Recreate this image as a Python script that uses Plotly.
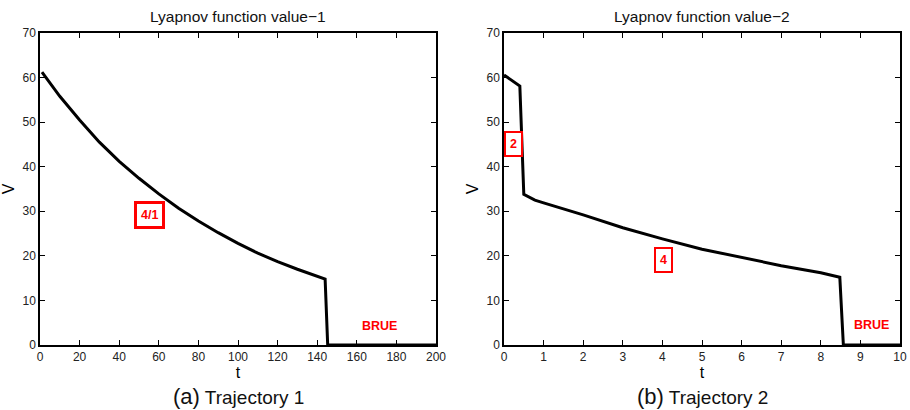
import plotly.graph_objects as go

# Trajectory 1
t1 = [1, 10, 20, 30, 40, 50, 60, 70, 80, 90, 100, 110, 120, 130, 144, 145.3, 200]
v1 = [61.2, 55.8, 50.5, 45.5, 41.2, 37.4, 33.9, 30.7, 27.8, 25.2, 22.8, 20.6, 18.7, 17.0, 14.8, 0, 0]

# Trajectory 2
t2 = [0, 0.4, 0.5, 0.78, 1.0, 2.0, 3.0, 4.0, 5.0, 6.0, 7.0, 8.0, 8.48, 8.57, 10]
v2 = [60.6, 58.1, 33.8, 32.5, 31.9, 29.2, 26.3, 23.8, 21.5, 19.6, 17.8, 16.2, 15.2, 0, 0]

titles = ["Lyapnov function value\u22121", "Lyapnov function value\u22122"]
captions = [("(a)", "Trajectory 1"), ("(b)", "Trajectory 2")]
x1_ticks = [0, 20, 40, 60, 80, 100, 120, 140, 160, 180, 200]
x2_ticks = [0, 1, 2, 3, 4, 5, 6, 7, 8, 9, 10]
y_ticks = [0, 10, 20, 30, 40, 50, 60, 70]

# annotation labels: (axis, x, y, text, boxed)
labels = [
    (1, 55.5, 29.2, "4/1", True),
    (1, 171.5, 4.3, "BRUE", False),
    (2, 0.24, 45.0, "2", True),
    (2, 4.03, 19.1, "4", True),
    (2, 9.29, 4.6, "BRUE", False),
]

W, H = 910, 410
font = "Liberation Sans, Arial, Helvetica, sans-serif"

fig = go.Figure()
fig.add_trace(go.Scatter(x=t1, y=v1, mode="lines", line=dict(color="black", width=3),
                         xaxis="x", yaxis="y", showlegend=False))
fig.add_trace(go.Scatter(x=t2, y=v2, mode="lines", line=dict(color="black", width=3),
                         xaxis="x2", yaxis="y2", showlegend=False))

ydom = [1 - 345 / H, 1 - 33 / H]
xdom1 = [40 / W, 436 / W]
xdom2 = [504 / W, 900 / W]

axcommon = dict(showline=True, linecolor="black", linewidth=1.5, mirror="ticks",
                ticks="inside", ticklen=5, tickwidth=1, tickcolor="black",
                showgrid=False, zeroline=False, automargin=False,
                tickfont=dict(family=font, size=12, color="#222222"))

fig.update_layout(
    width=W, height=H,
    margin=dict(l=0, r=0, t=0, b=0, autoexpand=False),
    plot_bgcolor="white", paper_bgcolor="white",
    xaxis=dict(domain=xdom1, range=[0, 200], tickvals=x1_ticks, anchor="y",
               title=dict(text="t", font=dict(family=font, size=16, color="black"), standoff=0),
               **axcommon),
    yaxis=dict(domain=ydom, range=[0, 70], tickvals=y_ticks, anchor="x",
               title=dict(text="V", font=dict(family=font, size=16, color="black"), standoff=4),
               **axcommon),
    xaxis2=dict(domain=xdom2, range=[0, 10], tickvals=x2_ticks, anchor="y2",
                title=dict(text="t", font=dict(family=font, size=16, color="black"), standoff=0),
                **axcommon),
    yaxis2=dict(domain=ydom, range=[0, 70], tickvals=y_ticks, anchor="x2",
                title=dict(text="V", font=dict(family=font, size=16, color="black"), standoff=4),
                **axcommon),
)

anns = []
for i, (ttl, dom) in enumerate(zip(titles, [xdom1, xdom2])):
    cx = (dom[0] + dom[1]) / 2
    anns.append(dict(text=ttl, x=cx, y=1 - 16 / H, xref="paper", yref="paper",
                     showarrow=False, xanchor="center", yanchor="middle",
                     font=dict(family=font, size=15.5, color="#111")))
    a, b = captions[i]
    anns.append(dict(text=f"<span style='font-size:22px'>{a}</span> {b}", x=cx, y=1 - 396 / H,
                     xref="paper", yref="paper", showarrow=False,
                     xanchor="center", yanchor="middle",
                     font=dict(family=font, size=19, color="#111")))

for ax, x, y, txt, boxed in labels:
    suffix = "" if ax == 1 else "2"
    d = dict(text=f"<b>{txt}</b>", x=x, y=y, xref="x" + suffix, yref="y" + suffix,
             showarrow=False, xanchor="center", yanchor="middle",
             font=dict(family=font, size=12.5, color="#ff0000"))
    if boxed:
        big = txt == "4/1"
        d.update(bordercolor="#ff0000", borderwidth=3 if big else 2,
                 borderpad=4 if big else 4, bgcolor="white")
    anns.append(d)

fig.update_layout(annotations=anns)
fig.write_html("out.html", config={"displayModeBar": False},
               post_script="document.body.style.margin='0';document.body.style.overflow='hidden';")
